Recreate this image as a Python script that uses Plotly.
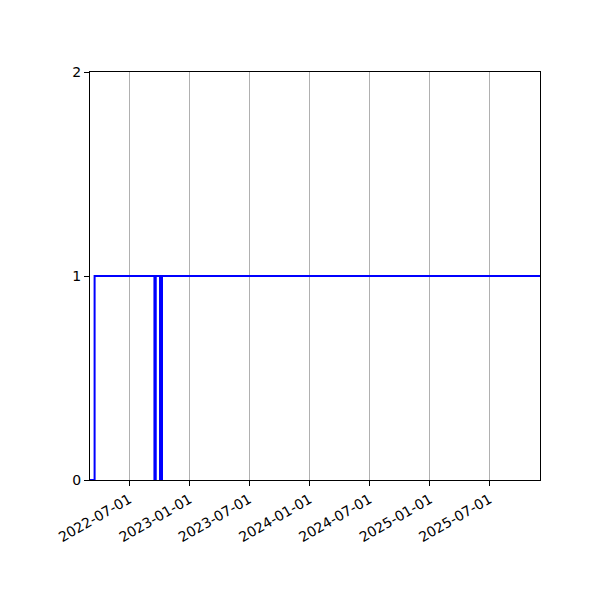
import plotly.graph_objects as go

# Data
dates = ["2022-03-04", "2022-03-18", "2022-09-16", "2022-09-20",
         "2022-10-03", "2022-10-09", "2025-12-02"]
values = [0, 1, 0, 1, 0, 1, 1]

x_ticks = ["2022-07-01", "2023-01-01", "2023-07-01", "2024-01-01",
           "2024-07-01", "2025-01-01", "2025-07-01"]
y_ticks = [0, 1, 2]

fig = go.Figure()
fig.add_trace(go.Scatter(
    x=dates, y=values, mode="lines", line_shape="hv",
    line=dict(color="#0000ff", width=2), showlegend=False,
    hoverinfo="x+y",
))

axis_common = dict(
    showline=True, linecolor="black", linewidth=1, mirror=True,
    ticks="outside", ticklen=5, tickwidth=1, tickcolor="black",
    zeroline=False,
    tickfont=dict(family="DejaVu Sans", size=14, color="black"),
)

# page body has an 8px margin; compensate so the axes sit where the reference has them
fig.update_layout(
    width=600, height=600,
    margin=dict(l=82, r=68, t=64, b=128),
    paper_bgcolor="white", plot_bgcolor="white",
    font=dict(family="DejaVu Sans", size=14, color="black"),
    xaxis=dict(
        type="date", range=[dates[0], dates[-1]],
        tickvals=x_ticks, ticktext=x_ticks, tickangle=-30,
        showgrid=True, gridcolor="#b0b0b0", gridwidth=1,
        **axis_common,
    ),
    yaxis=dict(
        range=[0, 2], tickvals=y_ticks, ticktext=[str(v) for v in y_ticks],
        showgrid=False,
        **axis_common,
    ),
)

fig.write_html("out.html")
